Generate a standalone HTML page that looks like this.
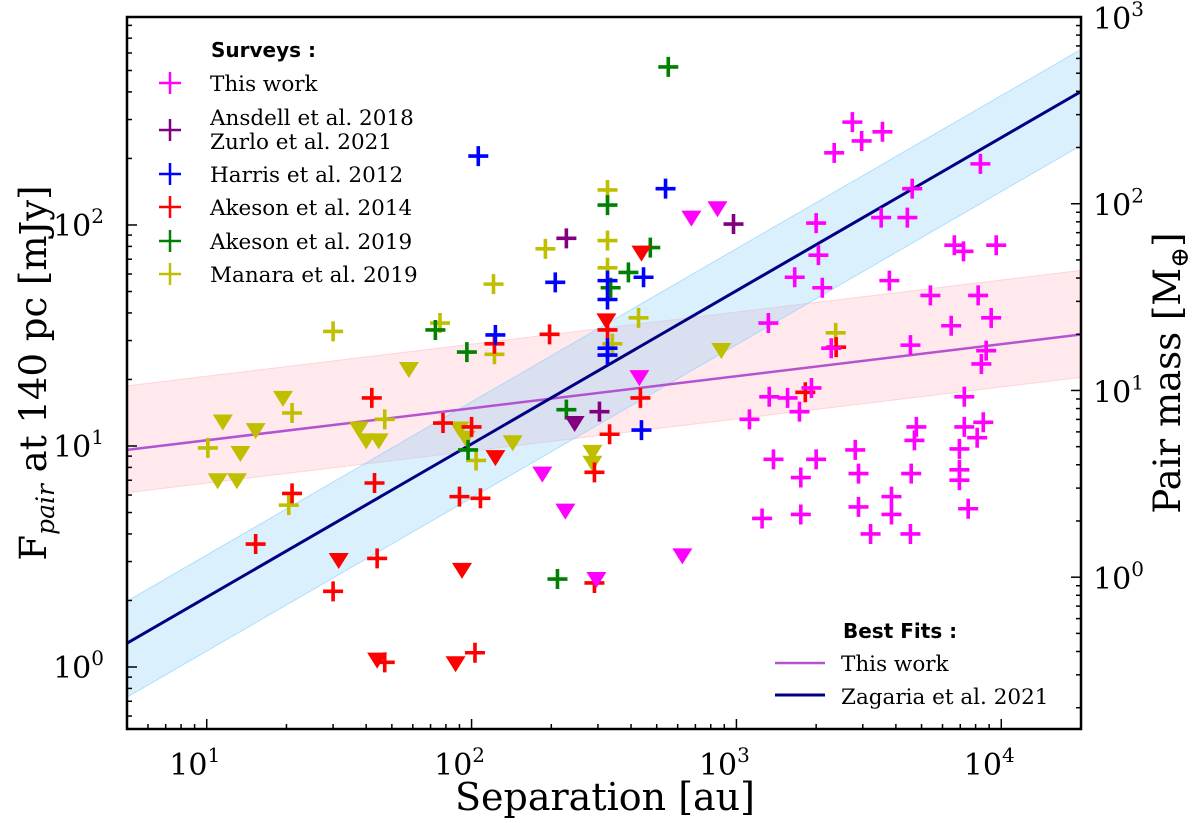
<!DOCTYPE html>
<html><head><meta charset="utf-8">
<style>
html,body{margin:0;padding:0;background:#fff;}
svg{display:block;}
text{font-family:"DejaVu Serif","Liberation Serif",serif;fill:#000;}
.lg{font-size:21.5px;}
.tk{font-size:30px;}
.sup{font-size:20px;}
.ttl{font-family:"DejaVu Sans","Liberation Sans",sans-serif;font-weight:bold;font-size:20px;}
</style></head>
<body>
<svg id="chart" width="1200" height="823" viewBox="0 0 1200 823" xmlns="http://www.w3.org/2000/svg">
<defs><clipPath id="clip"><rect x="127" y="17" width="954" height="712"/></clipPath></defs>
<g id="bands" clip-path="url(#clip)"></g>
<g id="marks" clip-path="url(#clip)"></g>
<g id="axes"></g>
<g id="legend"></g>
</svg>
<script>
// ---- data (separation [au], flux [mJy]) ----
const thisWorkSep = [2740,2970,3560,2340,8340,4610,2000,3520,4420,2040,1660,2110,3780,6650,7200,9570,5400,8180,1320,6470,9160,8770,8410,2280,4540,1330,1560,1730,1920,1120,7250,7250,8550,8110,6950,4780,4700,1380,2000,1750,2810,2890,4570,6950,6950,1250,1750,2890,3850,3850,7500,3210,4540];
const thisWorkFlux = [292,240,264,212,189,146,102,108,108,73,58,52,56,81,76,81,48,48,36,35,38,27,23.5,27.7,28.6,16.7,16.5,14.3,18.3,13.2,16.7,12.2,12.8,10.9,9.7,12.2,10.6,8.7,8.7,7.2,9.6,7.5,7.5,7.8,7.0,4.7,4.9,5.3,5.9,4.9,5.2,4.0,4.0];
const thisWorkULSep = [676,848,430,185,226,625,296];
const thisWorkULFlux = [108,119,20.5,7.5,5.1,3.2,2.5];
const ansdellSep = [228,975,304];
const ansdellFlux = [87,101,14.3];
const ansdellULSep = [245];
const ansdellULFlux = [12.7];
const harrisSep = [106,540,207,326,446,326,326,326,123,438];
const harrisFlux = [205,146,55,56,58,46,27.7,25.8,31.8,11.8];
const akeson19Sep = [553,326,473,391,335,73,96,228,97,211];
const akeson19Flux = [519,123,79,61,52,33.5,26.6,14.6,9.6,2.5];
const akeson14Sep = [197,122,326,42,434,78,100,332,291,21,43,90,108,44,30,103,47,291,15.3,2380,1820];
const akeson14Flux = [32,29,33.5,16.5,16.5,12.7,12.2,11.3,7.6,6.1,6.8,5.9,5.8,3.1,2.2,1.16,1.05,2.4,3.6,28,17.5];
const akeson14ULSep = [323,438,123,31.5,92,44,87];
const akeson14ULFlux = [37,75,8.9,3.05,2.75,1.08,1.04];
const manaraSep = [326,326,190,326,121,76,122,427,340,30,21,47,104,10.1,20.4,2370];
const manaraFlux = [144,85,78,64,54,36,26,38,29,33,14.1,13.2,8.6,9.8,5.4,32.5];
const manaraULSep = [11.5,19.4,15.3,13.4,11,13,58,37.5,40,44.6,90,95,143,286,286,877];
const manaraULFlux = [12.9,16.5,11.8,9.3,7.0,7.0,22.3,12.0,10.6,10.6,12,10.9,10.4,9.4,8.4,27.2];
// fits: F = norm * sep^slope, band factors
const fitNames = ["this-work-fit","zagaria-fit"];
const fitNorm = [7.6, 0.42];
const fitSlope = [0.145, 0.693];
const fitUpper = [1.95, 1.55];
const fitLower = [0.64, 0.57];
const xTicks = [10,100,1000,10000];
const xTickExp = ["1","2","3","4"];
const yTicks = [1,10,100];
const yTickExp = ["0","1","2"];
const y2Ticks = [1,10,100,1000];
const y2TickExp = ["0","1","2","3"];

// ---- scales ----
const X0=127,X1=1081,Y0=17,Y1=729;
const xMinL=Math.log10(5), xMaxL=Math.log10(20000);
const yMinL=-0.2805, yMaxL=2.941;
const y2MinL=-0.813, y2MaxL=3.0;
function sx(v){return X0+(Math.log10(v)-xMinL)/(xMaxL-xMinL)*(X1-X0);}
function sy(v){return Y1-(Math.log10(v)-yMinL)/(yMaxL-yMinL)*(Y1-Y0);}
function sy2(v){return Y1-(Math.log10(v)-y2MinL)/(y2MaxL-y2MinL)*(Y1-Y0);}
const NS="http://www.w3.org/2000/svg";
function mk(tag,attrs,parent){const e=document.createElementNS(NS,tag);for(const k in attrs)e.setAttribute(k,attrs[k]);parent.appendChild(e);return e;}

// ---- bands and fit lines ----
const bands=document.getElementById('bands');
const bandFill=["rgba(255,182,193,0.30)","rgba(135,206,250,0.30)"];
const bandEdge=["rgba(255,182,193,0.5)","rgba(135,206,250,0.6)"];
const lineCol=["#b452d2","#000080"];
const xs=[5,20000];
for(let i=0;i<2;i++){
  const f=v=>fitNorm[i]*Math.pow(v,fitSlope[i]);
  const pts=[[xs[0],f(xs[0])*fitUpper[i]],[xs[1],f(xs[1])*fitUpper[i]],[xs[1],f(xs[1])*fitLower[i]],[xs[0],f(xs[0])*fitLower[i]]];
  const p=mk('polygon',{points:pts.map(q=>sx(q[0])+','+sy(q[1])).join(' '),fill:bandFill[i],stroke:bandEdge[i],'stroke-width':1},bands);
  
  
}
for(let i=0;i<2;i++){
  const f=v=>fitNorm[i]*Math.pow(v,fitSlope[i]);
  const l=mk('line',{x1:sx(xs[0]),y1:sy(f(xs[0])),x2:sx(xs[1]),y2:sy(f(xs[1])),stroke:lineCol[i],'stroke-width':i?3:2.5},bands);
  
  
}

// ---- markers ----
const marks=document.getElementById('marks');
function cross(x,y,c,name){
  const g=mk('path',{d:`M${x-10},${y}H${x+10}M${x},${y-10}V${y+10}`,stroke:c,'stroke-width':3.6,fill:'none'},marks);
  
  
}
function tri(x,y,c,name){
  const g=mk('path',{d:`M${x-10},${y-7}L${x+10},${y-7}L${x},${y+9}Z`,fill:c},marks);
  
  
}
function drawSet(sep,flux,c,fn,name){for(let i=0;i<sep.length;i++)fn(sx(sep[i]),sy(flux[i]),c,name);}
drawSet(manaraULSep,manaraULFlux,'#bfbf00',tri,'manara-2019-upper-limit');
drawSet(manaraSep,manaraFlux,'#bfbf00',cross,'manara-2019-point');
drawSet(akeson19Sep,akeson19Flux,'#008000',cross,'akeson-2019-point');
drawSet(akeson14ULSep,akeson14ULFlux,'#ff0000',tri,'akeson-2014-upper-limit');
drawSet(akeson14Sep,akeson14Flux,'#ff0000',cross,'akeson-2014-point');
drawSet(harrisSep,harrisFlux,'#0000ff',cross,'harris-2012-point');
drawSet(ansdellULSep,ansdellULFlux,'#800080',tri,'ansdell-2018-upper-limit');
drawSet(ansdellSep,ansdellFlux,'#800080',cross,'ansdell-2018-point');
drawSet(thisWorkULSep,thisWorkULFlux,'#ff00ff',tri,'this-work-upper-limit');
drawSet(thisWorkSep,thisWorkFlux,'#ff00ff',cross,'this-work-point');

// ---- axes ----
const axes=document.getElementById('axes');
const fr=mk('rect',{x:X0,y:Y0,width:X1-X0,height:Y1-Y0,fill:'none',stroke:'#000','stroke-width':2.5},axes);


function tick(x1,y1,x2,y2){mk('line',{x1,y1,x2,y2,stroke:'#000','stroke-width':1.5},axes);}
for(let d=0;d<=4;d++){for(let m=1;m<10;m++){const v=m*Math.pow(10,d);if(v<5||v>20000)continue;const x=sx(v);tick(x,Y1,x,Y1-(m==1?10:5));}}
xTicks.forEach((v,i)=>{
  const t=mk('text',{x:sx(v)-12,y:775,class:'tk','text-anchor':'middle'},axes);
  
  
  t.innerHTML='10<tspan class="sup" dy="-13">'+xTickExp[i]+'</tspan>';
});
for(let d=-1;d<=2;d++){for(let m=1;m<10;m++){const v=m*Math.pow(10,d);const L=Math.log10(v);if(L<yMinL||L>yMaxL)continue;const y=sy(v);tick(X0,y,X0+(m==1?10:5),y);}}
yTicks.forEach((v,i)=>{
  const t=mk('text',{x:104,y:sy(v)+11,class:'tk','text-anchor':'end'},axes);
  
  
  t.innerHTML='10<tspan class="sup" dy="-13">'+yTickExp[i]+'</tspan>';
});
for(let d=-1;d<=2;d++){for(let m=1;m<10;m++){const v=m*Math.pow(10,d);const L=Math.log10(v);if(L<y2MinL||L>y2MaxL)continue;const y=sy2(v);tick(X1,y,X1-(m==1?10:5),y);}}
y2Ticks.forEach((v,i)=>{
  const t=mk('text',{x:1093,y:sy2(v)+12,class:'tk'},axes);
  
  
  t.innerHTML='10<tspan class="sup" dy="-13">'+y2TickExp[i]+'</tspan>';
});
</script>
<script>
(function(){
const NS="http://www.w3.org/2000/svg";
const lg=document.getElementById('legend');
function add(html){const g=document.createElementNS(NS,'g');g.innerHTML=html;while(g.firstChild)lg.appendChild(g.firstChild);}
add(`
<text x="605" y="810" text-anchor="middle" style="font-size:38px">Separation [au]</text>
<text transform="translate(46,373) rotate(-90)" text-anchor="middle" style="font-size:37px">F<tspan style="font-size:25px;font-style:italic" dy="8">pair</tspan><tspan dy="-8"> at 140 pc [mJy]</tspan></text>
<text transform="translate(1180,373) rotate(-90)" text-anchor="middle" style="font-size:37px">Pair mass [M<tspan style="font-size:25px" dy="8">⊕</tspan><tspan dy="-8">]</tspan></text>
<text class="ttl" x="211" y="57">Surveys :</text>
<g><path d="M159,83H181M170,72V94" stroke="#ff00ff" stroke-width="2.5"/><text class="lg" x="210" y="91">This work</text></g>
<g><path d="M159,130H181M170,119V141" stroke="#800080" stroke-width="2.5"/><text class="lg" x="210" y="125">Ansdell et al. 2018</text><text class="lg" x="210" y="149">Zurlo et al. 2021</text></g>
<g><path d="M159,174H181M170,163V185" stroke="#0000ff" stroke-width="2.5"/><text class="lg" x="210" y="182">Harris et al. 2012</text></g>
<g><path d="M159,207H181M170,196V218" stroke="#ff0000" stroke-width="2.5"/><text class="lg" x="210" y="215">Akeson et al. 2014</text></g>
<g><path d="M159,241H181M170,230V252" stroke="#008000" stroke-width="2.5"/><text class="lg" x="210" y="249">Akeson et al. 2019</text></g>
<g><path d="M159,274H181M170,263V285" stroke="#bfbf00" stroke-width="2.5"/><text class="lg" x="210" y="282">Manara et al. 2019</text></g>
<text class="ttl" x="843" y="638">Best Fits :</text>
<g><line x1="775" y1="663" x2="825" y2="663" stroke="#b452d2" stroke-width="2.5"/><text class="lg" x="841" y="671">This work</text></g>
<g><line x1="775" y1="695" x2="825" y2="695" stroke="#000080" stroke-width="3"/><text class="lg" x="841" y="704">Zagaria et al. 2021</text></g>
`);
})();
</script>
</body></html>
